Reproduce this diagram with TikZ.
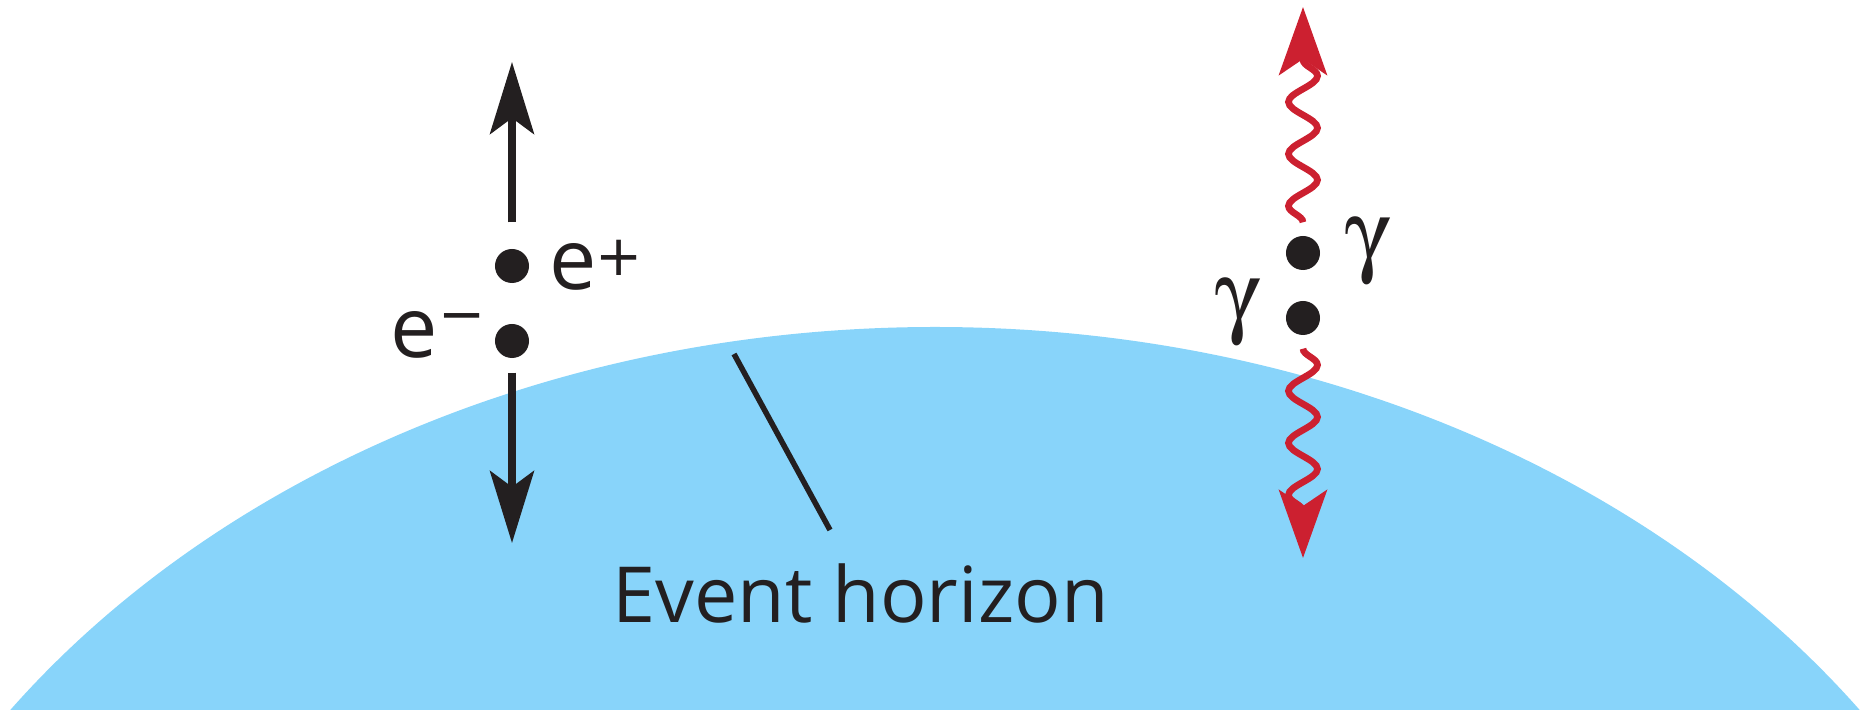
\documentclass[tikz,border=0pt]{standalone}
\usepackage[Symbol]{upgreek}
\usepackage{fontspec}
\setmainfont{Open Sans}
\newfontfamily\djv{DejaVu Sans}
\usetikzlibrary{arrows.meta,decorations.pathmorphing}
\definecolor{horizon}{RGB}{136,212,250}
\definecolor{ink}{RGB}{35,31,32}
\definecolor{photon}{RGB}{204,32,48}
\begin{document}
\begin{tikzpicture}[x=0.01cm,y=-0.01cm,
  dot/.style={circle,fill=ink,inner sep=0pt,minimum size=0.34cm},
  elabel/.style={inner sep=0pt,text=ink,font=\fontsize{24}{28}\selectfont},
  glabel/.style={inner sep=0pt,text=ink,font=\fontsize{26.5}{30}\selectfont},
  particle/.style={draw=ink,line width=0.07cm,-{Stealth[length=0.72cm,width=0.44cm,inset=0.16cm]}},
  photonarrow/.style={draw=photon,line width=0.067cm,-{Stealth[length=0.68cm,width=0.48cm,inset=0.16cm]},
    decorate,decoration={snake,amplitude=0.145cm,segment length=0.52cm,post length=0.45cm}},
  pointer/.style={draw=ink,line width=0.055cm}
]
\useasboundingbox (0,0) rectangle (1871,710);
\begin{scope}
  \clip (0,0) rectangle (1871,710);
  \fill[horizon] (935,1228) ellipse [x radius=1130, y radius=901];
\end{scope}

% electron-positron pair
\node[dot] (ep) at (512,266) {};
\node[dot] (em) at (512,341) {};
\coordinate (eUp) at (512,62);
\coordinate (eDown) at (512,543);
\draw[particle] ([yshift=0.26cm]ep.north) -- (eUp);
\draw[particle] ([yshift=-0.14cm]em.south) -- (eDown);
\node[elabel,anchor=base west] (eplus) at (549,290) {e\hspace{-0.02cm}\raisebox{0.14cm}{\djv\fontsize{16}{16}\selectfont +}};
\node[elabel,anchor=base west] (eminus) at (390,358) {e\raisebox{0.24cm}{\djv\fontsize{16}{16}\selectfont −}};

% photon pair
\node[dot] (gt) at (1303,253) {};
\node[dot] (gb) at (1303,318) {};
\coordinate (gUp) at (1303,7);
\coordinate (gDown) at (1303,558);
\draw[photonarrow] ([yshift=0.13cm]gt.north) -- (gUp);
\draw[photonarrow] ([yshift=-0.13cm]gb.south) -- (gDown);
\node[glabel,anchor=base] (gR) at (1368,265) {$\upgamma$};
\node[glabel,anchor=base] (gL) at (1238,326) {$\upgamma$};

% event horizon label
\node[anchor=base west,inner sep=0pt,text=ink,font=\fontsize{22}{26}\selectfont] (eh) at (612,623) {Event horizon};
\coordinate (ptrA) at (734,354);
\coordinate (ptrB) at (830,530);
\draw[pointer] (ptrA) -- (ptrB);
\end{tikzpicture}
\end{document}
